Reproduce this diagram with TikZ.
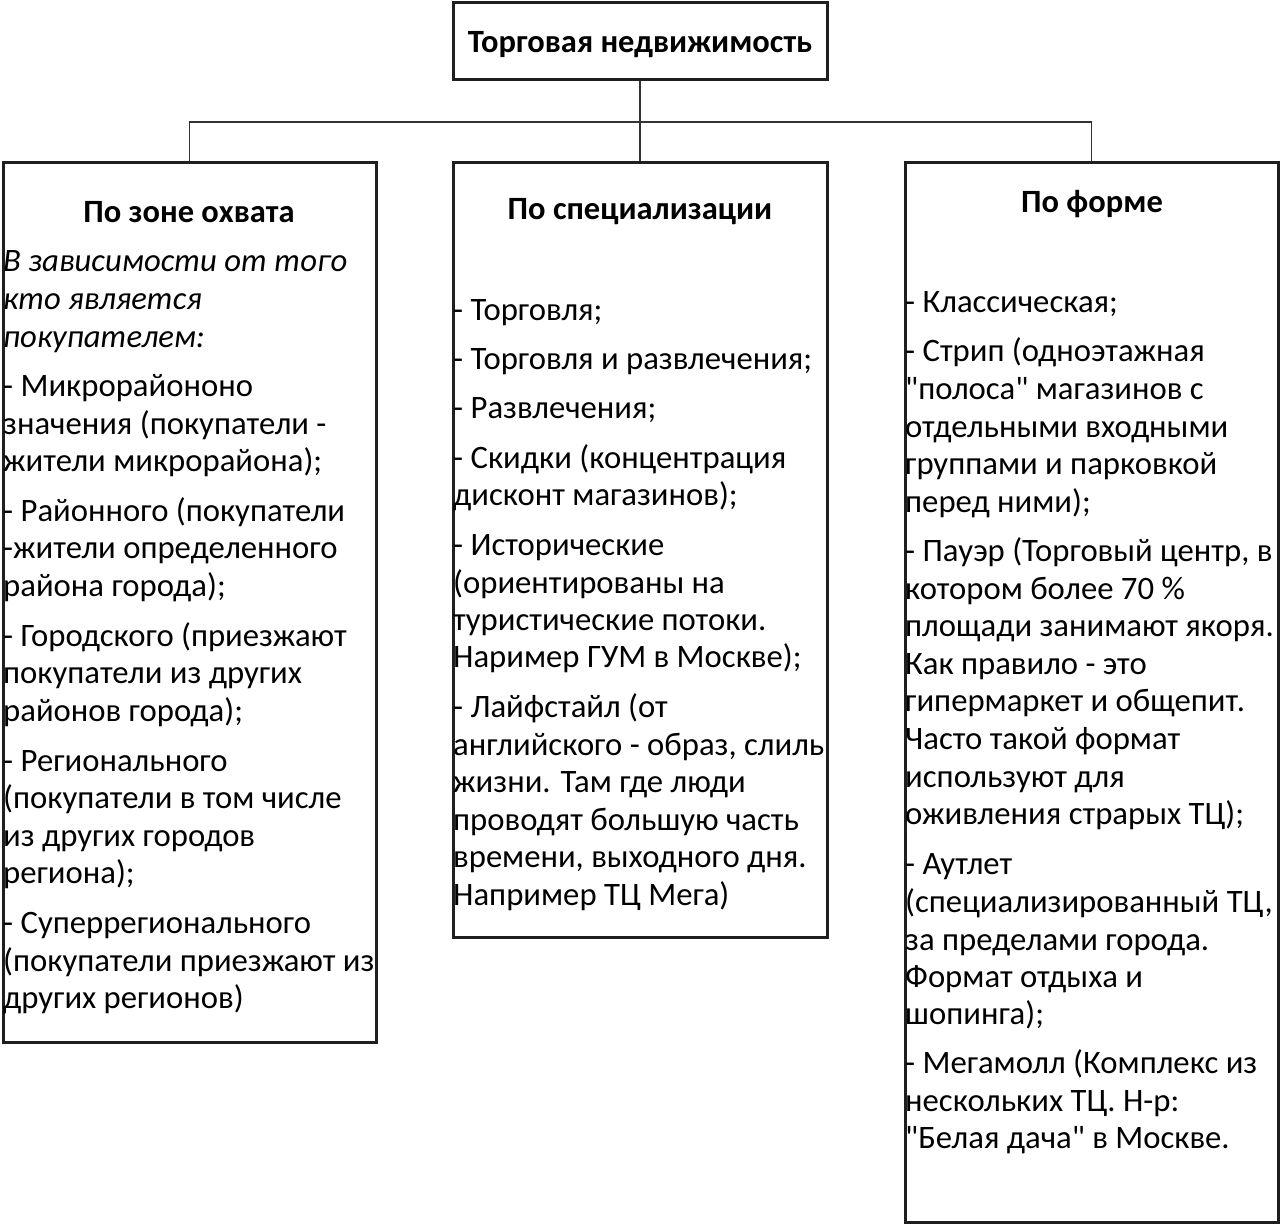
\documentclass[tikz,border=0pt]{standalone}
\usepackage{fontspec}
\setmainfont{Carlito}[Ligatures=TeXOff]
\begin{document}
\begin{tikzpicture}[x=1pt,y=-1pt,
  box/.style={draw=black!88,line width=3pt,inner sep=0pt},
  conn/.style={draw=black!80,line width=1.8pt},
  txt/.style={anchor=base west,inner sep=0pt,font=\fontsize{32.7}{39}\selectfont},
  itxt/.style={txt,font=\itshape\fontsize{32.7}{39}\selectfont},
  head/.style={anchor=base,inner sep=0pt,font=\bfseries\fontsize{32.5}{38}\selectfont}]
\useasboundingbox (0,0) rectangle (1280,1225);

% boxes
\node[box,minimum width=374,minimum height=77] (top) at (640,41.5) {};
\node[box,minimum width=373,minimum height=879] (lbox) at (189.5,602.5) {};
\node[box,minimum width=374,minimum height=774] (mbox) at (640,550) {};
\node[box,minimum width=373,minimum height=1059] (rbox) at (1091.5,692.5) {};

% connectors
\coordinate (bus) at (640,122);
\draw[conn] (top.south) -- (mbox.north);
\draw[conn] (lbox.north) -- (lbox.north |- bus) -- (rbox.north |- bus) -- (rbox.north);

% titles
\node[head] (ttop) at (640,53) {Торговая недвижимость};
\node[head] (tl) at (189,223) {По зоне охвата};
\node[head] (tm) at (640,220) {По специализации};
\node[head] (tr) at (1092,213) {По форме};

% left column
\foreach \y/\t [count=\i] in {272/{В зависимости от того},309/{кто является},347/{покупателем:}}
  \node[itxt] (li\i) at (3,\y) {\t};
\foreach \y/\t [count=\i] in {
  396/{- Микрорайононо},434/{значения (покупатели -},471/{жители микрорайона);},
  521/{- Районного (покупатели},558/{-жители определенного},596/{района города);},
  646/{- Городского (приезжают},683/{покупатели из других},721/{районов города);},
  771/{- Регионального},808/{(покупатели в том числе},846/{из других городов},883/{региона);},
  933/{- Суперрегионального},971/{(покупатели приезжают из},1008/{других регионов)}}
  \node[txt] (l\i) at (3,\y) {\t};

% middle column
\foreach \y/\t [count=\i] in {
  320/{- Торговля;},369/{- Торговля и развлечения;},418/{- Развлечения;},
  468/{- Скидки (концентрация},505/{дисконт магазинов);},
  555/{- Исторические},593/{(ориентированы на},630/{туристические потоки.},667/{Наример ГУМ в Москве);},
  717/{- Лайфстайл (от},755/{английского - образ, слиль},792/{жизни. Там где люди},830/{проводят большую часть},867/{времени, выходного дня.},905/{Например ТЦ Мега)}}
  \node[txt] (m\i) at (453,\y) {\t};

% right column
\foreach \y/\t [count=\i] in {
  312/{- Классическая;},
  361/{- Стрип (одноэтажная},399/{"полоса" магазинов с},437/{отдельными входными},474/{группами и парковкой},512/{перед ними);},
  561/{- Пауэр (Торговый центр, в},599/{котором более 70 \%},636/{площади занимают якоря.},674/{Как правило - это},711/{гипермаркет и общепит.},749/{Часто такой формат},787/{используют для},824/{оживления страрых ТЦ);},
  874/{- Аутлет},912/{(специализированный ТЦ,},950/{за пределами города.},987/{Формат отдыха и},1024/{шопинга);},
  1073/{- Мегамолл (Комплекс из},1111/{нескольких ТЦ. Н-р:},1148/{"Белая дача" в Москве.}}
  \node[txt] (r\i) at (905,\y) {\t};
\end{tikzpicture}
\end{document}
